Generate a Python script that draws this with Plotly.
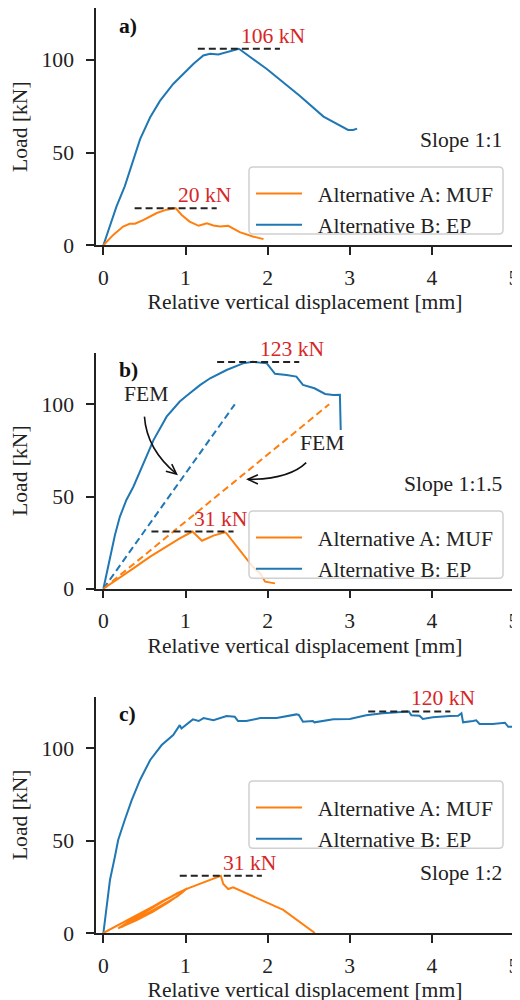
import math
import plotly.graph_objects as go

# ---------------- data ----------------
# Panel a) slope 1:1
a_ep_x = [0, 0.08, 0.16, 0.26, 0.365, 0.446, 0.568, 0.689, 0.85, 1.01, 1.095, 1.217, 1.3, 1.4, 1.54, 1.65,
          1.99, 2.39, 2.68, 2.88, 2.98, 3.04, 3.09]
a_ep_y = [0, 10.1, 21, 31.8, 46.3, 57.1, 68.9, 77.9, 87, 94.2, 97.8, 102.4, 103.3, 102.9, 104.7, 106,
          95.1, 80.7, 69.4, 64.4, 62.2, 62.2, 62.9]
a_muf_x = [0, 0.12, 0.24, 0.32, 0.385, 0.49, 0.65, 0.77, 0.88, 0.95, 1.05, 1.16, 1.26, 1.34, 1.42, 1.52,
           1.66, 1.82, 1.95]
a_muf_y = [0, 5.6, 10.1, 11.6, 11.6, 13.7, 17.4, 19.2, 20, 16.5, 12.8, 10.5, 11.9, 10.7, 10.1, 10.5,
           7.1, 4.7, 3.3]

# Panel b) slope 1:1.5
b_ep_x = [0, 0.08, 0.14, 0.2, 0.28, 0.365, 0.49, 0.61, 0.77, 0.93, 1.01, 1.18, 1.3, 1.5, 1.7, 1.82, 1.99,
          2.09, 2.23, 2.35, 2.43, 2.57, 2.7, 2.8, 2.88, 2.89]
b_ep_y = [0, 17.4, 29, 39, 48.1, 55.3, 68, 80.6, 93.3, 101.5, 104.5, 110.5, 114.1, 118.6, 122.2, 123,
          122.2, 116.5, 115.9, 115, 110.5, 108.7, 105.6, 105.1, 105.2, 86.1]
b_muf_x = [0, 0.16, 0.365, 0.57, 0.77, 0.93, 1.085, 1.11, 1.2, 1.34, 1.48, 1.5, 1.66, 1.82, 1.91, 1.97, 2.09]
b_muf_y = [0, 4.7, 11, 17.4, 22.8, 27.3, 31, 30, 26, 28.8, 30.6, 30, 21, 11.9, 8.3, 3.8, 2.9]
b_fem_ep_x = [0, 1.6]
b_fem_ep_y = [0, 100]
b_fem_muf_x = [0, 2.75]
b_fem_muf_y = [0, 100]

# Panel c) slope 1:2
c_ep_x = [0, 0.04, 0.08, 0.14, 0.18, 0.26, 0.345, 0.446, 0.57, 0.71, 0.85, 0.93, 0.95, 1.09, 1.16, 1.22,
          1.34, 1.5, 1.6, 1.64, 1.74, 1.91, 2.11, 2.35, 2.38, 2.43, 2.55, 2.57, 2.8, 3.0, 3.2, 3.4, 3.72,
          3.75, 3.85, 3.89, 4.01, 4.22, 4.32, 4.36, 4.38, 4.5, 4.54, 4.58, 4.74, 4.89, 4.93, 5.0]
c_ep_y = [0, 16.1, 28.7, 41.3, 50.4, 61.2, 72, 82.9, 93.7, 101.8, 107.2, 112.6, 110.8, 115.7, 114.8, 116.4,
          115.3, 117.5, 117.1, 114.8, 114.8, 116.4, 116.4, 118.4, 118.1, 114.4, 114.8, 114.1, 115.7, 115.9,
          117.9, 119, 120, 117.9, 117.7, 115.9, 116.8, 117.5, 117.7, 119, 114.1, 114.8, 115.2, 113.2, 113.2,
          113.9, 111.7, 111.7]
c_muf_x = [0, 0.2, 0.4, 0.6, 0.8, 1.02,
           0.95, 0.8, 0.6, 0.4, 0.18,
           0.3, 0.5, 0.7, 0.9, 1.0,
           0.9, 0.7, 0.45, 0.22,
           0.35, 0.55, 0.75, 0.9, 1.03,
           1.2, 1.43, 1.46, 1.52, 1.58, 2.19, 2.575]
c_muf_y = [0, 4.7, 9.5, 14.3, 19.1, 24.2,
           21.5, 16.8, 11.5, 6.8, 2.5,
           6.0, 11.5, 16.8, 21.4, 23.6,
           19.8, 14.6, 8.4, 3.2,
           7.0, 12.4, 17.8, 21.6, 24.2,
           27.2, 31, 26.5, 23.8, 24.7, 12.5, 0]

# peak markers: x position of peak, value
peak_x = {"a": [1.65, 0.88], "b": [1.885, 1.085], "c": [3.725, 1.43]}
peak_v = {"a": [106, 20], "b": [123, 31], "c": [120, 31]}
slope_labels = ["Slope 1:1", "Slope 1:1.5", "Slope 1:2"]
slope_label_y = [56.6, 56.8, 32.6]
panel_labels = ["a)", "b)", "c)"]
x_ticks = [0, 1, 2, 3, 4, 5]
y_ticks = [0, 50, 100]
series_names = ["Alternative A: MUF", "Alternative B: EP"]

# FEM annotation (panel b): text position, arrow start, control, end
fem_text = [(0.52, 105.6), (2.66, 79.2)]
fem_arrow = [((0.5, 93.3), (0.527, 75.6), (0.89, 62.2)),
             ((2.47, 68.4), (2.26, 59.3), (1.76, 59.3))]

# ---------------- style ----------------
BLUE = "#1f77b4"
ORANGE = "#ff7f0e"
RED = "#d62728"
INK = "#222222"
FONT = "Liberation Serif, Times New Roman, serif"
FS = 21.6
W, H = 520, 1000
ML, MR, MT, MB = 88, 14, 0, 75
XR = [-0.09, 5]
YR = [0, 128]
domains = [[0.7435, 1.0], [0.3722, 0.6274], [0.0, 0.2555]]
# legend frame boxes (paper coords): x0, x1, y0, y1
legend_box = [(0.366, 0.9737, 0.7557, 0.8281),
              (0.366, 0.9737, 0.3835, 0.4562),
              (0.366, 0.9737, 0.0916, 0.1643)]

PW = W - ML - MR
PH = H - MT - MB

fig = go.Figure()

panels = [
    ("a", a_ep_x, a_ep_y, a_muf_x, a_muf_y),
    ("b", b_ep_x, b_ep_y, b_muf_x, b_muf_y),
    ("c", c_ep_x, c_ep_y, c_muf_x, c_muf_y),
]

annotations = []
shapes = []
NB = "\u00a0\u00a0"

for i, (key, ex, ey, mx, my) in enumerate(panels):
    n = "" if i == 0 else str(i + 1)
    xa, ya = "x" + n, "y" + n
    leg = "legend" + n
    if key == "b":
        fig.add_trace(go.Scatter(x=b_fem_ep_x, y=b_fem_ep_y, mode="lines", showlegend=False,
                                 line=dict(color=BLUE, width=2, dash="7px,4px"), xaxis=xa, yaxis=ya))
        fig.add_trace(go.Scatter(x=b_fem_muf_x, y=b_fem_muf_y, mode="lines", showlegend=False,
                                 line=dict(color=ORANGE, width=2, dash="7px,4px"), xaxis=xa, yaxis=ya))
    # curves
    fig.add_trace(go.Scatter(x=ex, y=ey, mode="lines", name=NB + series_names[1],
                             line=dict(color=BLUE, width=2), xaxis=xa, yaxis=ya,
                             legend=leg, legendgroup=f"ep{i}", legendrank=2))
    fig.add_trace(go.Scatter(x=mx, y=my, mode="lines", name=NB + series_names[0],
                             line=dict(color=ORANGE, width=2), xaxis=xa, yaxis=ya,
                             legend=leg, legendgroup=f"muf{i}", legendrank=1))
    # peak dashed lines + labels
    for px_, pv in zip(peak_x[key], peak_v[key]):
        fig.add_trace(go.Scatter(x=[px_ - 0.5, px_ + 0.5], y=[pv, pv], mode="lines", showlegend=False,
                                 line=dict(color=INK, width=2, dash="7px,4px"),
                                 xaxis=xa, yaxis=ya, cliponaxis=False))
        annotations.append(dict(x=px_, y=pv, xref=xa, yref=ya, text=f"{pv} kN", showarrow=False,
                                xanchor="left", yanchor="bottom", yshift=-1,
                                font=dict(family=FONT, size=FS, color=RED)))
    # slope text
    annotations.append(dict(x=4.875, y=slope_label_y[i], xref=xa, yref=ya, text=slope_labels[i],
                            showarrow=False, xanchor="right", yanchor="middle",
                            font=dict(family=FONT, size=FS, color=INK)))
    # panel label
    annotations.append(dict(x=0.167, y=118.4, xref=xa, yref=ya, text=f"<b>{panel_labels[i]}</b>",
                            showarrow=False, xanchor="left", yanchor="middle",
                            font=dict(family=FONT, size=FS, color="#111111")))
    # legend frame (rounded rectangle)
    x0, x1, y0, y1 = legend_box[i]
    rx, ry = 4.0 / PW, 4.0 / PH
    shapes.append(dict(type="path", xref="paper", yref="paper", layer="above",
                       path=(f"M {x0 + rx},{y0} L {x1 - rx},{y0} Q {x1},{y0} {x1},{y0 + ry} "
                             f"L {x1},{y1 - ry} Q {x1},{y1} {x1 - rx},{y1} L {x0 + rx},{y1} "
                             f"Q {x0},{y1} {x0},{y1 - ry} L {x0},{y0 + ry} Q {x0},{y0} {x0 + rx},{y0} Z"),
                       fillcolor="rgba(255,255,255,0.8)", line=dict(color="#d0d0d0", width=1.5)))
    axis_common = dict(showline=True, linecolor=INK, linewidth=1.5, ticks="outside",
                       ticklen=8, tickwidth=1.5, tickcolor=INK, showgrid=False, zeroline=False,
                       tickfont=dict(family=FONT, size=FS, color=INK))
    fig.update_layout(**{
        ("xaxis" + n): dict(domain=[0, 1], range=XR, anchor=ya, tickvals=x_ticks,
                            title=dict(text="Relative vertical displacement [mm]", standoff=5,
                                       font=dict(family=FONT, size=FS, color=INK)),
                            ticklabelstandoff=4, **axis_common),
        ("yaxis" + n): dict(domain=domains[i], range=YR, anchor=xa, tickvals=y_ticks,
                            title=dict(text="Load [kN]", standoff=8,
                                       font=dict(family=FONT, size=FS, color=INK)),
                            ticklabelstandoff=8, **axis_common),
        leg: dict(x=x0 + 2.0 / PW, y=y1 - 6.0 / PH, xanchor="left", yanchor="top",
                  xref="paper", yref="paper",
                  bgcolor="rgba(0,0,0,0)", borderwidth=0,
                  font=dict(family=FONT, size=FS, color=INK), tracegroupgap=0,
                  traceorder="grouped", itemwidth=46),
    })

# FEM labels and curved arrows (panel b)
sx = PW / (XR[1] - XR[0])
sy = PH * (domains[1][1] - domains[1][0]) / (YR[1] - YR[0])
for (tx, ty), (s, c, e) in zip(fem_text, fem_arrow):
    annotations.append(dict(x=tx, y=ty, xref="x2", yref="y2", text="FEM", showarrow=False,
                            font=dict(family=FONT, size=FS, color=INK)))
    shapes.append(dict(type="path", xref="x2", yref="y2",
                       path=f"M {s[0]},{s[1]} Q {c[0]},{c[1]} {e[0]},{e[1]}",
                       line=dict(color="#111111", width=1.6)))
    dx = (e[0] - c[0]) * sx
    dy = (e[1] - c[1]) * sy
    L = math.hypot(dx, dy)
    ux, uy = dx / L, dy / L
    hl, ang = 11, math.radians(25)
    pts = []
    for sgn in (1, -1):
        ca, sa = math.cos(sgn * ang), math.sin(sgn * ang)
        rxv = ux * ca - uy * sa
        ryv = ux * sa + uy * ca
        pts.append((e[0] - hl * rxv / sx, e[1] - hl * ryv / sy))
    shapes.append(dict(type="path", xref="x2", yref="y2",
                       path=f"M {pts[0][0]},{pts[0][1]} L {e[0]},{e[1]} L {pts[1][0]},{pts[1][1]}",
                       line=dict(color="#111111", width=1.6)))

fig.update_layout(width=W, height=H, margin=dict(l=ML, r=MR, t=MT, b=MB, autoexpand=False),
                  plot_bgcolor="white", paper_bgcolor="white",
                  annotations=annotations, shapes=shapes,
                  font=dict(family=FONT, size=FS, color=INK))

fig.write_html("out.html")
